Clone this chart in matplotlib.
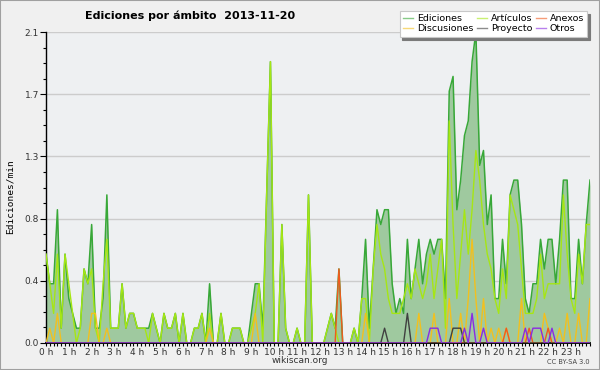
import numpy as np
import matplotlib
matplotlib.use('Agg')
import matplotlib.pyplot as plt
from matplotlib.ticker import MultipleLocator, AutoMinorLocator, FormatStrFormatter
from matplotlib.patches import Rectangle

# 10-minute buckets over the day (144 points), values in edits/min
ediciones = [0.6, 0.4, 0.4, 0.9, 0.1, 0.6, 0.3, 0.2, 0.1, 0.1, 0.5, 0.4, 0.8, 0.1, 0.1, 0.3, 1.0, 0.1, 0.1, 0.1,
             0.4, 0.1, 0.2, 0.2, 0.1, 0.1, 0.1, 0.1, 0.2, 0.1, 0.0, 0.2, 0.1, 0.1, 0.2, 0.0, 0.2, 0.0, 0.0, 0.1,
             0.1, 0.2, 0.0, 0.4, 0.0, 0.0, 0.2, 0.0, 0.0, 0.1, 0.1, 0.1, 0.0, 0.0, 0.2, 0.4, 0.4, 0.1, 1.0, 1.9,
             0.0, 0.0, 0.8, 0.1, 0.0, 0.0, 0.1, 0.0, 0.0, 1.0, 0.0, 0.0, 0.0, 0.0, 0.1, 0.2, 0.1, 0.5, 0.0, 0.0,
             0.0, 0.1, 0.0, 0.3, 0.7, 0.1, 0.5, 0.9, 0.8, 0.9, 0.9, 0.4, 0.2, 0.3, 0.2, 0.7, 0.3, 0.5, 0.7, 0.4,
             0.6, 0.7, 0.6, 0.7, 0.7, 0.3, 1.7, 1.8, 0.9, 1.1, 1.4, 1.5, 1.9, 2.1, 1.2, 1.3, 0.8, 1.0, 0.3, 0.3,
             0.7, 0.4, 1.0, 1.1, 1.1, 0.8, 0.3, 0.2, 0.4, 0.4, 0.7, 0.5, 0.7, 0.7, 0.4, 0.7, 1.1, 1.1, 0.3, 0.3,
             0.7, 0.4, 0.8, 1.1]
articulos = [0.6, 0.4, 0.2, 0.6, 0.1, 0.6, 0.4, 0.2, 0.0, 0.1, 0.5, 0.4, 0.5, 0.1, 0.0, 0.4, 0.7, 0.1, 0.1, 0.1,
             0.4, 0.1, 0.2, 0.2, 0.1, 0.1, 0.1, 0.0, 0.2, 0.1, 0.0, 0.2, 0.1, 0.1, 0.2, 0.0, 0.2, 0.0, 0.0, 0.1,
             0.1, 0.2, 0.0, 0.2, 0.0, 0.0, 0.2, 0.0, 0.0, 0.1, 0.1, 0.1, 0.0, 0.0, 0.1, 0.2, 0.4, 0.0, 1.0, 1.9,
             0.0, 0.0, 0.8, 0.1, 0.0, 0.0, 0.1, 0.0, 0.0, 1.0, 0.0, 0.0, 0.0, 0.0, 0.1, 0.2, 0.1, 0.0, 0.0, 0.0,
             0.0, 0.1, 0.0, 0.3, 0.3, 0.0, 0.5, 0.8, 0.6, 0.5, 0.3, 0.2, 0.2, 0.2, 0.3, 0.4, 0.3, 0.5, 0.4, 0.3,
             0.4, 0.6, 0.3, 0.5, 0.7, 0.1, 1.5, 0.8, 0.3, 0.6, 0.9, 0.6, 0.9, 1.3, 1.1, 0.8, 0.6, 0.5, 0.3, 0.2,
             0.5, 0.3, 1.0, 0.9, 0.8, 0.5, 0.2, 0.2, 0.2, 0.3, 0.6, 0.3, 0.4, 0.4, 0.4, 0.4, 1.0, 0.6, 0.3, 0.2,
             0.6, 0.4, 0.8, 0.8]
# sparse series: {bucket index: value}
discusiones = {1: 0.1, 3: 0.2, 12: 0.2, 13: 0.2, 16: 0.1, 43: 0.1, 55: 0.2, 84: 0.2, 98: 0.2, 102: 0.2,
               106: 0.3, 109: 0.2, 111: 0.3, 112: 0.7, 113: 0.3, 115: 0.3, 117: 0.1, 119: 0.1, 121: 0.1,
               125: 0.3, 131: 0.2, 132: 0.1, 135: 0.1, 137: 0.2, 140: 0.2, 143: 0.3}
anexos = {77: 0.5, 121: 0.1, 127: 0.1, 132: 0.1}
proyecto = {89: 0.1, 95: 0.2, 107: 0.1, 108: 0.1, 109: 0.1}
otros = {101: 0.1, 102: 0.1, 103: 0.1, 110: 0.1, 112: 0.2, 115: 0.1, 126: 0.1, 128: 0.1, 129: 0.1,
         130: 0.1, 133: 0.1}

hour_labels = [f'{h} h' for h in range(24)]

n = len(ediciones)
x = np.arange(n)


def dense(d):
    y = np.zeros(n)
    for k, v in d.items():
        y[k] = v
    return y


fig = plt.figure(figsize=(6, 3.7), dpi=100, facecolor='#f0f0f0')
fig.patches.append(Rectangle((0, 0), 1, 1, transform=fig.transFigure, fill=False,
                             edgecolor='#a0a0a0', linewidth=1.5))
ax = fig.add_axes([46 / 600, 27 / 370, 544 / 600, 311 / 370])
ax.set_facecolor('#eef0f2')

ax.fill_between(x, ediciones, color='#9fc99f', lw=0, zorder=2)
ax.plot(x, ediciones, color='#38a838', lw=1.1, zorder=3, label='Ediciones')
ax.plot(x, articulos, color='#a6e614', lw=1.0, zorder=4, label='Artículos')
ax.plot(x, dense(discusiones), color='#f2c01e', lw=1.0, zorder=5, label='Discusiones')
ax.plot(x, dense(anexos), color='#f05a1e', lw=1.0, zorder=6, label='Anexos')
ax.plot(x, dense(proyecto), color='#404040', lw=1.0, zorder=6, label='Proyecto')
ax.plot(x, dense(otros), color='#8a2be2', lw=1.0, zorder=7, label='Otros')

ax.set_xlim(0, n - 1)
ax.set_ylim(0, 2.1)
ax.set_yticks(np.linspace(0, 2.1, 6))
ax.yaxis.set_major_formatter(FormatStrFormatter('%.1f'))
ax.yaxis.set_minor_locator(AutoMinorLocator(4))
ax.set_xticks(np.arange(0, 24) * 6)
ax.set_xticklabels(hour_labels)
ax.xaxis.set_minor_locator(MultipleLocator(1))
ax.grid(axis='y', color='#cccccc', lw=1, zorder=1)
ax.set_axisbelow(True)

for s in ['top', 'right']:
    ax.spines[s].set_visible(False)
ax.spines['left'].set_linewidth(1.0)
ax.spines['bottom'].set_linewidth(1.3)
ax.tick_params(axis='y', which='major', length=4, width=0.8, labelsize=6.5, labelcolor='#333333', pad=1)
ax.tick_params(axis='y', which='minor', length=2.5, width=0.8)
ax.tick_params(axis='x', which='both', length=2.5, width=0.8, labelsize=6.5, labelcolor='#333333', pad=1)

ax.set_ylabel('Ediciones/min', family='DejaVu Sans Mono', fontsize=6.8, labelpad=4)
ax.yaxis.set_label_coords(-0.058, 0.47)

fig.text(0.141, 0.957, 'Ediciones por ámbito  2013-11-20', fontsize=8, fontweight='bold', va='center')
fig.text(0.5, 0.025, 'wikiscan.org', fontsize=6.5, color='#333333', ha='center', va='center')
fig.text(0.983, 0.022, 'CC BY-SA 3.0', fontsize=4.8, color='#444444', ha='right', va='center')

h, l = ax.get_legend_handles_labels()
order = [0, 2, 1, 4, 3, 5]
leg = fig.legend([h[i] for i in order], [l[i] for i in order], ncol=3, loc='upper right',
                 bbox_to_anchor=(0.987, 0.983), fontsize=6.8, frameon=True, fancybox=False,
                 shadow={'color': '#7a7a7a', 'alpha': 1}, edgecolor='#c8c8c8', facecolor='white',
                 handlelength=1.1, handletextpad=0.4, columnspacing=0.35, labelspacing=0.12,
                 borderpad=0.35)
leg.get_frame().set_linewidth(0.8)
for line in leg.get_lines():
    line.set_alpha(0.6)
    line.set_linewidth(1.0)

fig.savefig('out.png', dpi=100, facecolor=fig.get_facecolor())
